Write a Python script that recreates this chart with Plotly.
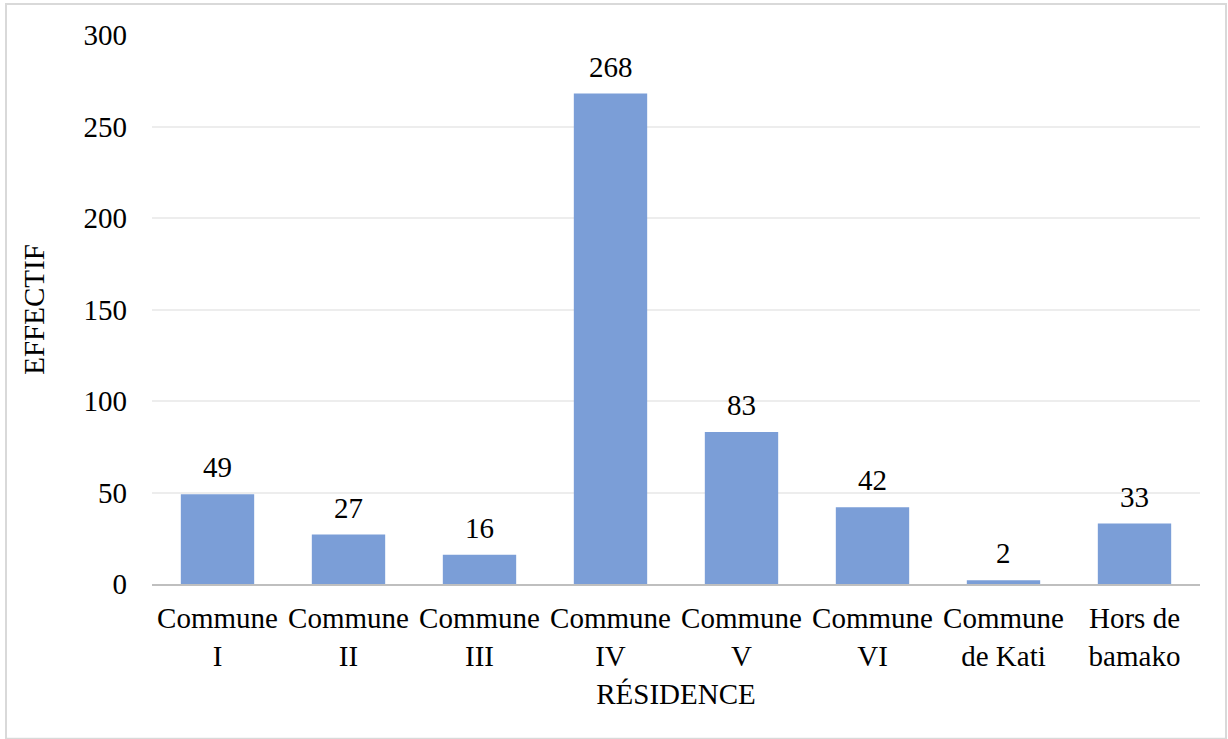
import plotly.graph_objects as go

categories = ["Commune<br>I", "Commune<br>II", "Commune<br>III", "Commune<br>IV",
              "Commune<br>V", "Commune<br>VI", "Commune<br>de Kati", "Hors de<br>bamako"]
values = [49, 27, 16, 268, 83, 42, 2, 33]
y_ticks = [0, 50, 100, 150, 200, 250, 300]

FONT = "Liberation Serif, Times New Roman, serif"
FS = 29

fig = go.Figure(go.Bar(
    x=categories, y=values,
    marker=dict(color="#7B9ED7", line=dict(width=0)),
    width=0.56,
))

for c, v in zip(categories, values):
    fig.add_annotation(x=c, y=v, text=str(v), showarrow=False,
                       yanchor="bottom", yshift=9,
                       font=dict(family=FONT, size=FS, color="#000000"))

fig.update_layout(
    width=1228, height=739,
    margin=dict(l=152, r=28, t=35, b=155),
    paper_bgcolor="white", plot_bgcolor="white",
    font=dict(family=FONT, size=FS, color="#000000"),
    showlegend=False,
    xaxis=dict(
        title=dict(text="RÉSIDENCE", font=dict(size=FS), standoff=13),
        showline=True, linecolor="#BFBFBF", linewidth=2,
        tickfont=dict(size=FS), showgrid=False,
        ticklabelstandoff=7,
    ),
    yaxis=dict(
        title=dict(text="EFFECTIF", font=dict(size=FS), standoff=30),
        range=[0, 300], tickvals=y_ticks,
        showgrid=True, gridcolor="#EDEDED", gridwidth=1.5,
        zeroline=False, showline=False,
        tickfont=dict(size=FS),
        ticklabelstandoff=24,
    ),
    shapes=[dict(type="rect", xref="paper", yref="paper",
                 x0=-0.1393, x1=1.0248, y0=-0.282, y1=1.0565,
                 line=dict(color="#D9D9D9", width=2), fillcolor="rgba(0,0,0,0)",
                 layer="below")],
)

fig.write_html("out.html")
